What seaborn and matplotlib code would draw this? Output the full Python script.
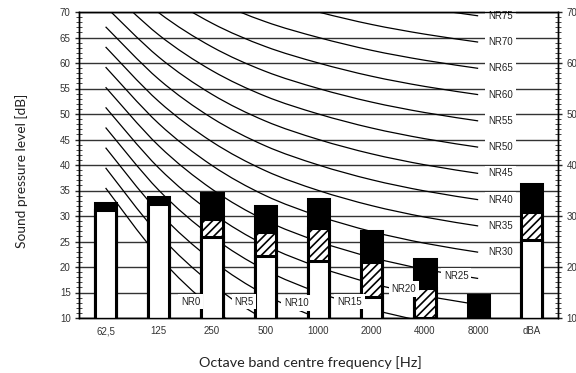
import pandas as pd
import seaborn as sns
import matplotlib.pyplot as plt
from matplotlib.path import Path
from matplotlib.patches import PathPatch
from matplotlib.ticker import MultipleLocator

# octave bands on the x axis
bands = ["62,5", "125", "250", "500", "1000", "2000", "4000", "8000", "dBA"]
# stacked bar segments (top of each segment, dB)
white_top = [31.2, 32.3, 25.8, 22.2, 21.2, 14.1, 10.0, 10.0, 25.3]
hatch_top = [31.2, 32.3, 29.4, 26.9, 27.6, 20.9, 15.9, 10.0, 30.7]
bar_top = [32.6, 33.8, 34.5, 32.0, 33.3, 27.1, 21.6, 14.5, 36.2]

# NR curves, levels at 62,5 ... 8000
nr_curves = {
    0: [35.5, 22.0, 12.0, 4.8, 0.0, -3.5, -6.1, -8.0],
    5: [39.45, 26.35, 16.65, 9.67, 5.0, 1.58, -0.98, -2.85],
    10: [43.4, 30.7, 21.3, 14.54, 10.0, 6.65, 4.15, 2.3],
    15: [47.35, 35.05, 25.95, 19.41, 15.0, 11.73, 9.28, 7.45],
    20: [51.3, 39.4, 30.6, 24.28, 20.0, 16.8, 14.4, 12.6],
    25: [55.25, 43.75, 35.25, 29.15, 25.0, 21.88, 19.53, 17.75],
    30: [59.2, 48.1, 39.9, 34.02, 30.0, 26.95, 24.65, 22.9],
    35: [63.15, 52.45, 44.55, 38.89, 35.0, 32.03, 29.78, 28.05],
    40: [67.1, 56.8, 49.2, 43.76, 40.0, 37.1, 34.9, 33.2],
    45: [71.05, 61.15, 53.85, 48.63, 45.0, 42.18, 40.03, 38.35],
    50: [75.0, 65.5, 58.5, 53.5, 50.0, 47.25, 45.15, 43.5],
    55: [78.95, 69.85, 63.15, 58.37, 55.0, 52.33, 50.28, 48.65],
    60: [82.9, 74.2, 67.8, 63.24, 60.0, 57.4, 55.4, 53.8],
    65: [86.85, 78.55, 72.45, 68.11, 65.0, 62.48, 60.53, 58.95],
    70: [90.8, 82.9, 77.1, 72.98, 70.0, 67.55, 65.65, 64.1],
    75: [94.75, 87.25, 81.75, 77.85, 75.0, 72.63, 70.78, 69.25],
}
# where the low NR labels sit (x in band index, y in dB)
low_labels = {0: (1.6, 13.2), 5: (2.6, 13.2), 10: (3.58, 13.0),
              15: (4.58, 13.2), 20: (5.6, 15.7), 25: (6.59, 18.2)}

sns.set_style("white")
plt.rcParams["font.family"] = ["Liberation Sans", "DejaVu Sans"]
plt.rcParams["hatch.linewidth"] = 1.2

fig = plt.figure(figsize=(5.76, 3.73), dpi=100)
ax = fig.add_axes([79 / 576, 1 - 318 / 373, 479 / 576, 306 / 373])


def smooth_path(ys):
    pts = list(enumerate(ys))
    verts = [pts[0]]
    codes = [Path.MOVETO]
    n = len(pts)
    for i in range(n - 1):
        p0 = pts[max(i - 1, 0)]
        p1 = pts[i]
        p2 = pts[i + 1]
        p3 = pts[min(i + 2, n - 1)]
        c1 = (p1[0] + (p2[0] - p0[0]) / 6, p1[1] + (p2[1] - p0[1]) / 6)
        c2 = (p2[0] - (p3[0] - p1[0]) / 6, p2[1] - (p3[1] - p1[1]) / 6)
        verts += [c1, c2, p2]
        codes += [Path.CURVE4] * 3
    return Path(verts, codes)


df = pd.DataFrame({"band": bands, "white": white_top,
                   "hatch": hatch_top, "top": bar_top})
common = dict(x="band", width=0.4, edgecolor="black", linewidth=2.2,
              saturation=1, errorbar=None, ax=ax, zorder=3)
sns.barplot(data=df, y="top", color="black", **common)
sns.barplot(data=df, y="hatch", color="white", hatch="////", **common)
sns.barplot(data=df, y="white", color="white", **common)

for nr, ys in nr_curves.items():
    ax.add_patch(PathPatch(smooth_path(ys), facecolor="none",
                           edgecolor="black", lw=0.9, zorder=2))
    if nr in low_labels:
        lx, ly = low_labels[nr]
    else:
        lx, ly = 7.42, ys[-1]
    ax.text(lx, ly, f"NR{nr}", fontsize=7, color="#222222", ha="center",
            va="center", zorder=6,
            bbox=dict(facecolor="white", edgecolor="none", pad=2))

ax.set_xlim(-0.5, len(bands) - 0.5)
ax.set_ylim(10, 70)
ax.set_xlabel("")
ax.set_ylabel("")
ax.set_axisbelow(True)
ax.yaxis.set_major_locator(MultipleLocator(5))
ax.yaxis.set_minor_locator(MultipleLocator(1))
ax.yaxis.grid(True, which="major", color="#333333", lw=1)
ax.tick_params(axis="y", which="major", direction="out", length=3, width=1,
               labelsize=7, labelcolor="#333333", pad=3, left=True)
ax.tick_params(axis="y", which="minor", direction="inout", length=4,
               width=0.6, left=True)
ax.tick_params(axis="x", length=0, labelsize=7, labelcolor="#333333", pad=6)
for s in ax.spines.values():
    s.set_color("black")
    s.set_linewidth(1)

ax2 = ax.twinx()
ax2.set_ylim(10, 70)
ax2.yaxis.set_major_locator(MultipleLocator(10))
ax2.yaxis.set_minor_locator(MultipleLocator(1))
ax2.tick_params(axis="y", which="major", direction="out", length=3, width=1,
                labelsize=7, labelcolor="#333333", pad=3, right=True)
ax2.tick_params(axis="y", which="minor", direction="inout", length=4,
                width=0.6, right=True)
for s in ax2.spines.values():
    s.set_color("black")
    s.set_linewidth(1)

fig.text(22 / 576, 1 - 171 / 373, "Sound pressure level [dB]",
         family=["Lato", "DejaVu Sans"], fontsize=9.9, rotation=90,
         ha="center", va="center", color="#222222")
fig.text(310 / 576, 1 - 363 / 373, "Octave band centre frequency [Hz]",
         family=["Lato", "DejaVu Sans"], fontsize=10.4,
         ha="center", va="center", color="#222222")

fig.savefig("out.png", dpi=100)
